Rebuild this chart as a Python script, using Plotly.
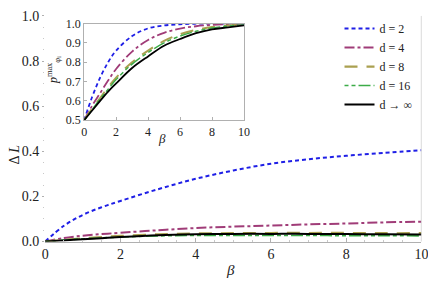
import plotly.graph_objects as go

beta = [0, 0.5, 1, 1.5, 2, 3, 4, 5, 6, 7, 8, 9, 10]

# main: Delta L
dL_d2 = [0, 0.07, 0.118, 0.152, 0.18, 0.232, 0.278, 0.315, 0.345, 0.365, 0.38, 0.393, 0.405]
dL_d4 = [0, 0.016, 0.026, 0.033, 0.039, 0.05, 0.06, 0.066, 0.071, 0.076, 0.08, 0.085, 0.088]
dL_d8 = [0, 0.008, 0.014, 0.02, 0.025, 0.032, 0.036, 0.037, 0.038, 0.038, 0.038, 0.037, 0.037]
dL_d16 = [0, 0.007, 0.012, 0.016, 0.02, 0.025, 0.027, 0.027, 0.027, 0.027, 0.026, 0.026, 0.025]
dL_inf = [0, 0.005, 0.01, 0.015, 0.02, 0.028, 0.032, 0.034, 0.034, 0.034, 0.033, 0.032, 0.031]

# inset: p max
p_d2 = [0.5, 0.62, 0.72, 0.8, 0.86, 0.935, 0.975, 0.99, 0.996, 0.999, 1.0, 1.0, 1.0]
p_d4 = [0.5, 0.575, 0.64, 0.705, 0.765, 0.855, 0.915, 0.952, 0.974, 0.986, 0.993, 0.997, 0.998]
p_d8 = [0.5, 0.56, 0.615, 0.67, 0.72, 0.80, 0.86, 0.91, 0.945, 0.967, 0.982, 0.99, 0.995]
p_d16 = [0.5, 0.555, 0.61, 0.66, 0.71, 0.79, 0.85, 0.90, 0.935, 0.96, 0.977, 0.987, 0.993]
p_inf = [0.5, 0.55, 0.6, 0.648, 0.69, 0.77, 0.83, 0.885, 0.92, 0.95, 0.97, 0.98, 0.99]

main_tick_vals = [0, 0.2, 0.4, 0.6, 0.8, 1.0]
inset_tick_vals = [0.5, 0.6, 0.7, 0.8, 0.9, 1.0]
beta_tick_vals = [0, 2, 4, 6, 8, 10]

labels = ["d = 2", "d = 4", "d = 8", "d = 16", "d \u2192 \u221e"]
colors = ["#1f1fe6", "#a03c78", "#aaa050", "#3cac48", "#000000"]
dashes = ["4px,3px", "10px,3px,3px,3px", "13px,9px", "4px,3px,4px,3px,12px,3px", "solid"]
widths = [2, 2, 2.2, 1.6, 2]

main_series = [dL_d2, dL_d4, dL_d8, dL_d16, dL_inf]
inset_series = [p_d2, p_d4, p_d8, p_d16, p_inf]

W, H = 436, 288
OFF = 8  # default page body margin


def px2x(X):
    return (X - OFF) / W


def px2y(Y):
    return (H - (Y - OFF)) / H


SERIF = "Liberation Serif, Times New Roman, DejaVu Serif, serif"
TXT = "#222222"
fig = go.Figure()
for i in range(5):
    fig.add_trace(go.Scatter(x=beta, y=main_series[i], mode="lines", name=labels[i],
                             line=dict(color=colors[i], dash=dashes[i], width=widths[i], shape="spline"),
                             xaxis="x", yaxis="y"))
for i in range(5):
    fig.add_trace(go.Scatter(x=beta, y=inset_series[i], mode="lines", showlegend=False,
                             line=dict(color=colors[i], dash=dashes[i], width=widths[i] * 0.9, shape="spline"),
                             xaxis="x2", yaxis="y2"))

fig.update_layout(
    width=W, height=H,
    margin=dict(l=0, r=0, t=0, b=0),
    paper_bgcolor="white", plot_bgcolor="white",
    font=dict(family=SERIF, size=13, color=TXT),
    showlegend=True,
    legend=dict(x=px2x(424), y=px2y(7), xanchor="right", yanchor="top", bgcolor="rgba(0,0,0,0)",
                font=dict(family=SERIF, size=12, color=TXT), itemwidth=30, tracegroupgap=0),
    xaxis=dict(domain=[px2x(42), px2x(428)], range=[0, 10], tickvals=beta_tick_vals,
               showgrid=False, zeroline=False, showline=True, linecolor="#b0b0b0", linewidth=1,
               ticks="inside", ticklen=4, tickcolor="#b0b0b0", ticklabeloverflow="allow",
               minor=dict(ticks="inside", ticklen=2, tickcolor="#c8c8c8", dtick=0.5),
               anchor="y", tickfont=dict(family=SERIF, size=14, color=TXT)),
    yaxis=dict(domain=[px2y(247), px2y(9)], range=[0, 1.0], tickvals=main_tick_vals,
               tickformat=".1f", showgrid=False, zeroline=False, showline=False,
               ticks="outside", ticklen=2, tickcolor="#b0b0b0",
               minor=dict(ticks="outside", ticklen=1, tickcolor="#c8c8c8", dtick=0.05),
               anchor="x", tickfont=dict(family=SERIF, size=14, color=TXT)),
    xaxis2=dict(domain=[px2x(82), px2x(246)], range=[0, 10], tickvals=beta_tick_vals,
                showgrid=False, zeroline=False, showline=True, mirror=True, linecolor="#b0b0b0",
                linewidth=1, ticks="inside", ticklen=3, tickcolor="#b0b0b0",
                anchor="y2", tickfont=dict(family=SERIF, size=12, color=TXT)),
    yaxis2=dict(domain=[px2y(119), px2y(17)], range=[0.5, 1.0],
                tickvals=inset_tick_vals, tickformat=".1f",
                showgrid=False, zeroline=False, showline=True, mirror=True, linecolor="#b0b0b0",
                linewidth=1, ticks="inside", ticklen=3, tickcolor="#b0b0b0",
                anchor="x2", tickfont=dict(family=SERIF, size=12, color=TXT)),
)

# right border of main plot
fig.add_shape(type="line", xref="x", yref="paper", x0=10, x1=10, y0=px2y(247), y1=px2y(9),
              line=dict(color="#b0b0b0", width=1))

fig.add_annotation(text="<i>\u03b2</i>", xref="paper", yref="paper", x=px2x(232), y=px2y(277),
                   xanchor="center", yanchor="middle",
                   showarrow=False, font=dict(family=SERIF, size=15, color=TXT))
fig.add_annotation(text="\u0394 <i>L</i>", xref="paper", yref="paper", x=px2x(20), y=px2y(155),
                   xanchor="right", yanchor="middle",
                   showarrow=False, textangle=-90, font=dict(family=SERIF, size=14, color=TXT))
fig.add_annotation(text="<i>\u03b2</i>", xref="paper", yref="paper", x=px2x(162), y=px2y(138),
                   xanchor="center", yanchor="middle",
                   showarrow=False, font=dict(family=SERIF, size=13, color=TXT))
fig.add_annotation(text="<i>p</i><sup>max</sup><sub>\u03c6<sub>i</sub></sub>", xref="paper", yref="paper",
                   x=px2x(62), y=px2y(66), showarrow=False, textangle=-90,
                   xanchor="right", yanchor="middle",
                   font=dict(family=SERIF, size=12, color=TXT))

fig.write_html("out.html")
